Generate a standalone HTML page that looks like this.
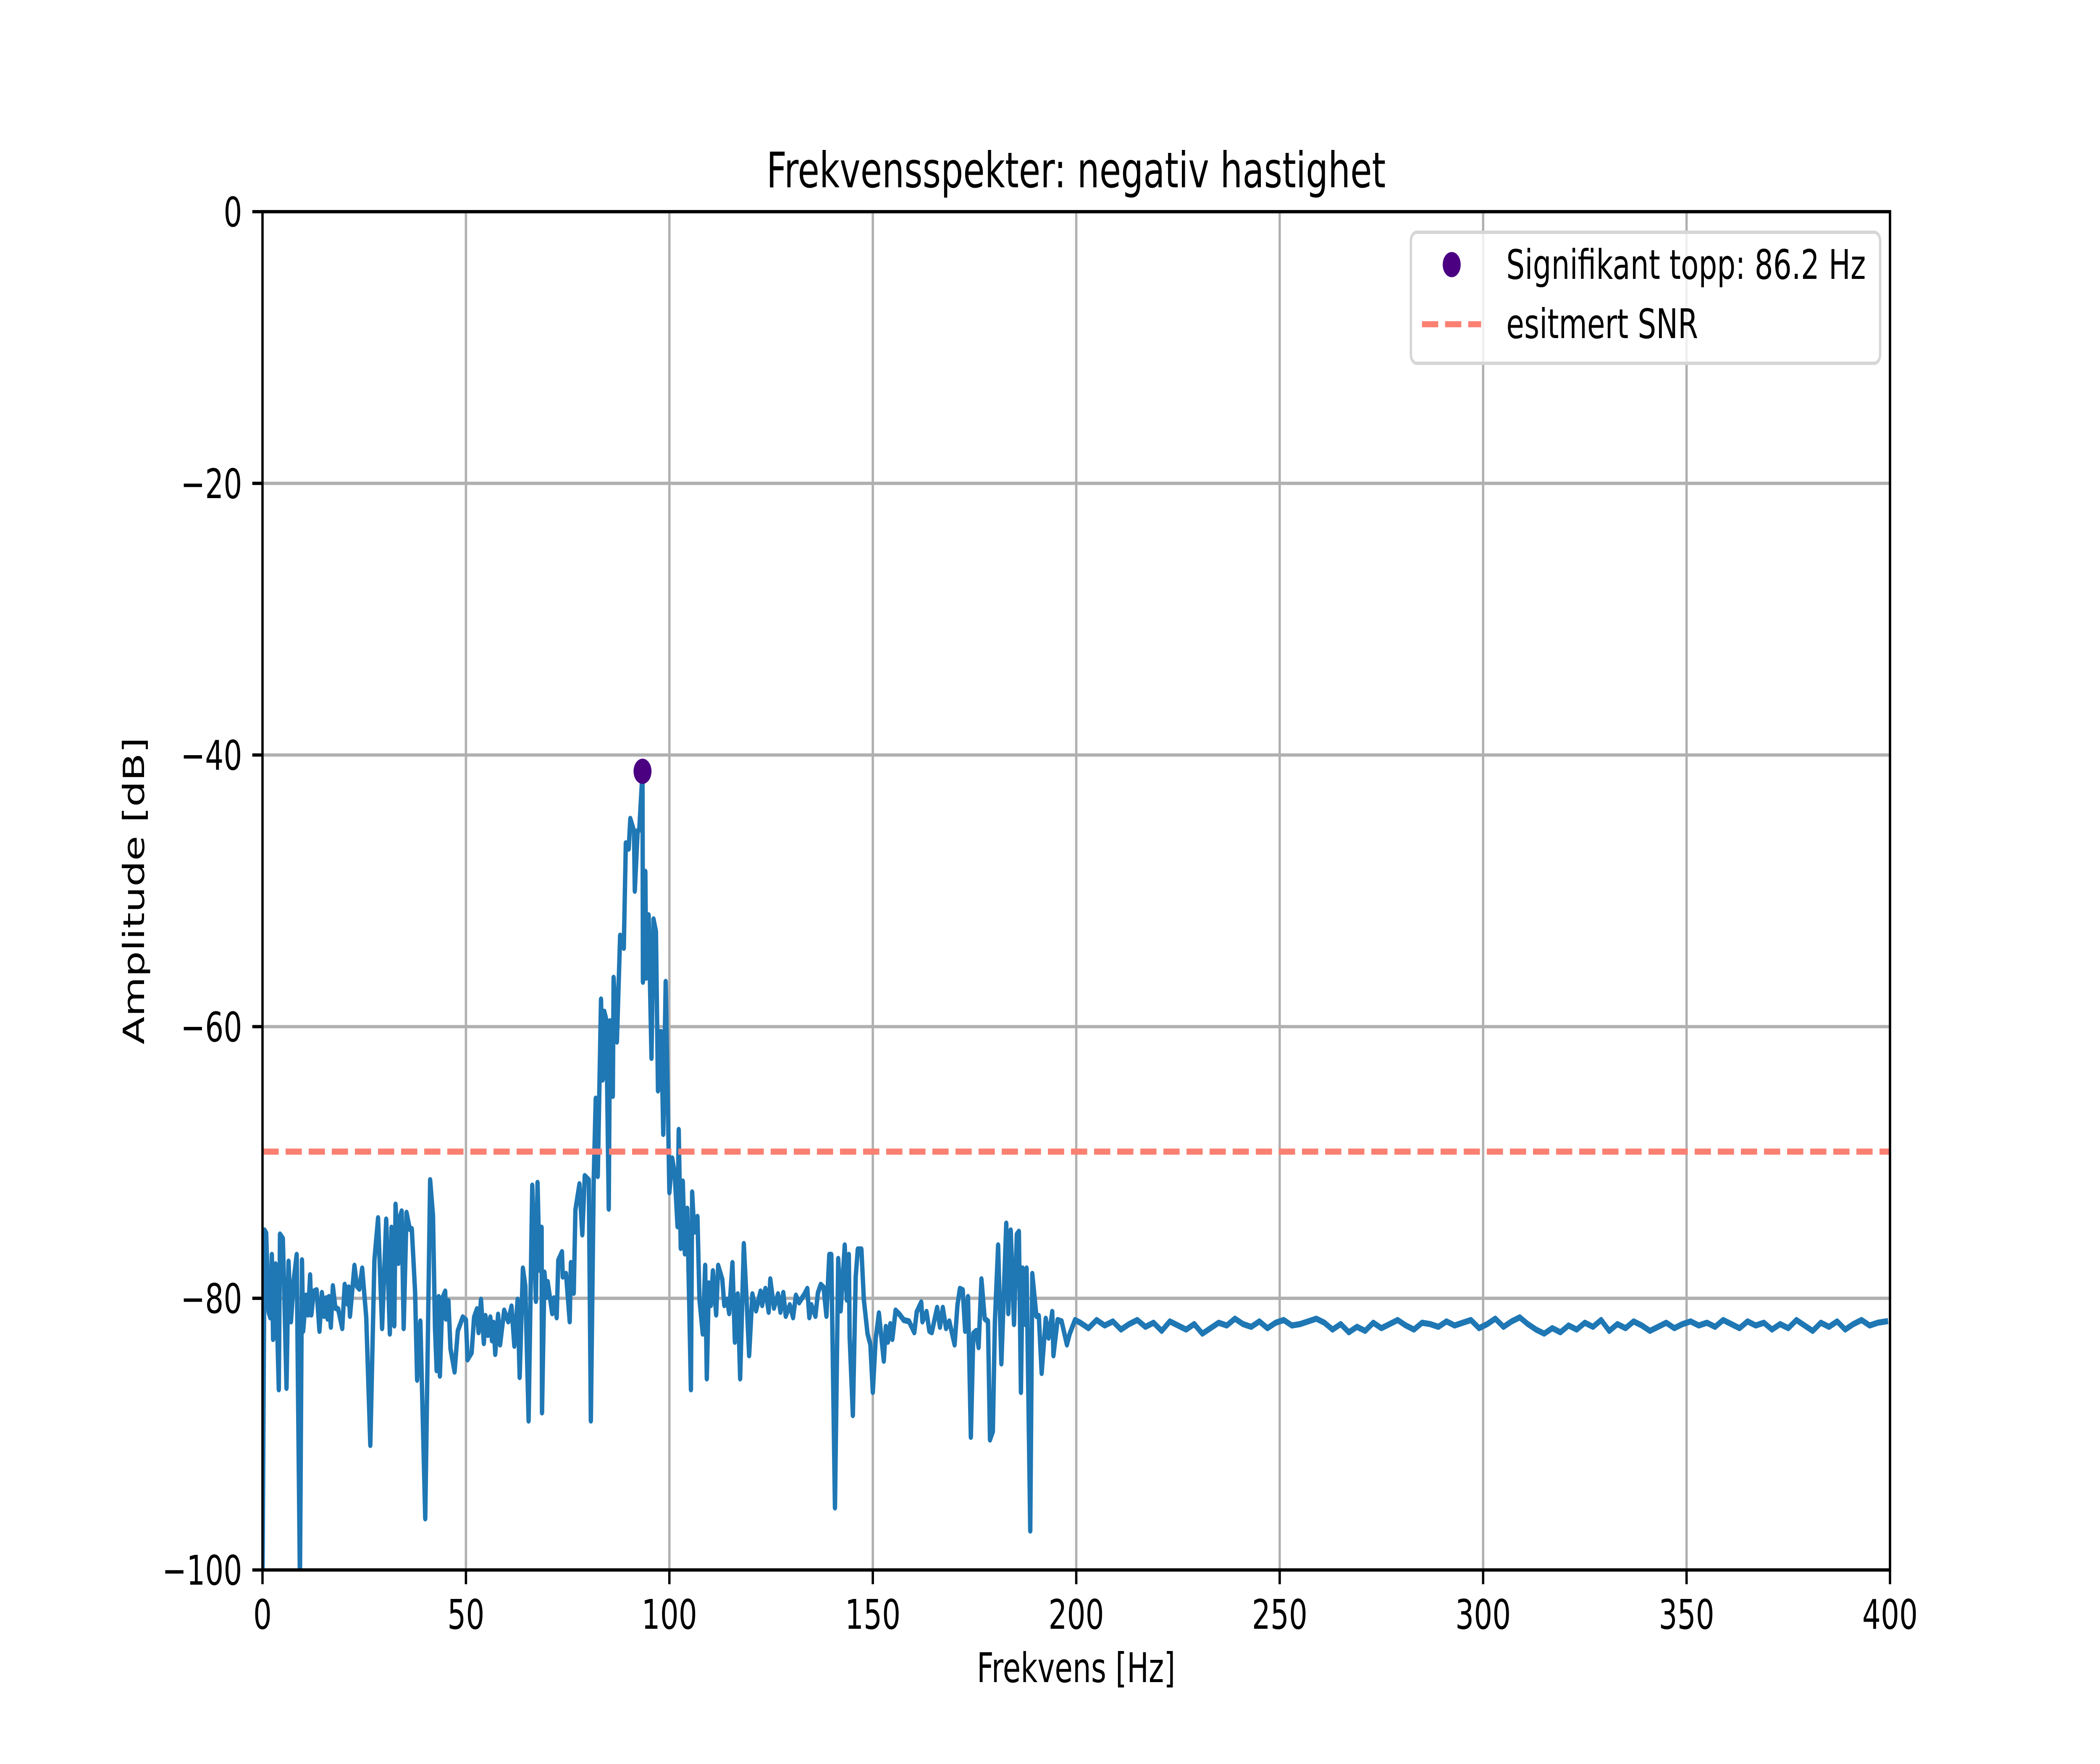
<!DOCTYPE html>
<html><head><meta charset="utf-8"><style>
html,body{margin:0;padding:0;background:#fff;width:100%;height:100%;overflow:hidden;}
svg{display:block;width:100vw;height:100vh;font-family:"DejaVu Sans","Liberation Sans",sans-serif;}
</style></head><body>
<svg id="chart" xmlns="http://www.w3.org/2000/svg" viewBox="0 0 7000 4200" preserveAspectRatio="none">
<rect x="0" y="0" width="7000" height="4200" fill="#fff"/>
<g id="grid"></g>
<g id="plot"></g>
<g id="axes"></g>
<text x="3587" y="446" font-size="117" text-anchor="middle">Frekvensspekter: negativ hastighet</text>
<text x="3587" y="4005" font-size="97" text-anchor="middle">Frekvens [Hz]</text>
<text x="480" y="2121" font-size="97" text-anchor="middle" transform="rotate(-90 480 2121)">Amplitude [dB]</text>
<g>
<rect x="4703" y="553" width="1564" height="312" rx="20" fill="#fff" fill-opacity="0.8" stroke="#d6d6d6" stroke-width="8"/>
<circle cx="4839" cy="630" r="30" fill="#4b0082"/>
<text x="5021" y="664" font-size="97">Signifikant topp: 86.2 Hz</text>
<line x1="4740" y1="772" x2="4937" y2="772" stroke="#fa8072" stroke-width="14.6" stroke-dasharray="54,23"/>
<text x="5021" y="805" font-size="97">esitmert SNR</text>
</g>
</svg>
<script>
// ---- data ----
const lowFreqs = [0,0.5,0.9,1.5,1.9,2.3,2.6,3.2,4,4.3,5,5.4,5.9,6.4,7,7.7,8.4,9.2,9.7,10,10.7,11.2,11.7,12,12.6,13.3,14,14.6,15.1,15.6,16,16.3,16.8,17.3,17.9,18.6,19.6,20.2,20.9,21.2,21.5,22.6,23.2,23.8,24.5,25.5,26.5,27.5,28.4,29.4,30.4,31.3,31.7,32.4,32.7,33.4,33.7,34.2,34.7,35.4,36.2,36.7,37.5,38,38.8,40,41.2,41.9,42.4,42.8,43.3,43.6,44.2,44.9,45.1,45.7,46.2,47.2,48,49.2,50,50.4,51.4,52,52.7,53.1,53.7,54.4,54.8,55.4,56,56.4,56.8,57.2,57.9,58.4,59.4,60.4,61.2,61.9,62.7,63.2,64,64.6,65.4,66.3,67.2,67.6,68.1,68.6,68.7,69.3,69.8,70.1,71.2,71.6,72.3,72.7,73.6,73.8,74.6,75.5,75.8,76.5,76.9,77.9,78.6,79.2,80.2,80.7,81.4,81.9,82.4,83.2,83.6,84,84.5,85.1,85.4,86.1,86.3,87.1,87.9,88.8,89.3,90,90.4,91.3,91.5,92.2,92.6,93.4,93.5,94.1,94.3,94.9,95.6,96.1,96.7,97.2,97.5,98,98.5,99.1,100,100.7,101.3,102,102.3,102.8,103.3,103.8,104.4,105.3,105.6,106.1,106.9,107.4,108.2,108.8,109.2,109.7,110.2,110.7,111.5,112,113,113.5,114.2,114.7,115.5,116.1,116.8,117.4,118.3,119.1,119.6,120.4,121.3,122.4,122.8,123.6,124.4,124.8,125.7,126.7,127.3,128,128.6,129.6,130.4,131.1,131.9,133.2,133.9,134.4,134.9,135.9,136.5,137.2,137.9,138.6,139.3,139.8,140.7,141.5,142.1,143.1,143.6,144.1,144.3,145.1,145.8,146.3,147.2,147.8,148.7,149.4,150,150.7,151.5,152.7,153.2,153.7,154.3,154.8,155.6,156.6,157.6,158.9,160.2,160.8,161.9,162.2,163.2,163.9,164.5,165.8,166.5,167.2,168,168.8,170.1,170.8,171.4,172.1,172.7,173.4,174.1,174.7,175.4,176,176.7,177.5,178.3,178.8,179.5,180,180.8,181.6,182.8,183.3,183.9,184.7,185.4,185.9,186.4,186.8,187.5,187.8,188.7,189.2,190.2,190.8,191.5,192.5,193.2,194.1,194.4,195.4,196.4,197.7,198.4,199.7];
const lowAmps = [-101,-75,-75.2,-81,-81.4,-76.8,-83,-77.5,-86.7,-75.3,-75.6,-80.2,-86.6,-77.3,-81.7,-78.6,-76.8,-101,-77.2,-82.4,-79.8,-81.2,-78.3,-81.2,-79.5,-79.4,-82.4,-79.6,-81.3,-80,-81.5,-79.9,-82.1,-79.1,-80.7,-80.8,-82.2,-79,-80.4,-79.2,-81.3,-77.6,-79.1,-79.3,-77.8,-81.4,-90.8,-77.2,-74.1,-82.2,-74.2,-82.6,-74.8,-82,-73.1,-77.4,-74.1,-73.6,-82.2,-73.7,-74.9,-74.9,-79.5,-86,-81.7,-96.2,-71.3,-73.9,-82.2,-85.3,-79.9,-85.7,-80,-79.5,-81.5,-80.2,-83.7,-85.4,-82.4,-81.4,-81.6,-84.5,-84,-81.4,-80.8,-82.5,-80.1,-83.3,-81.3,-82.7,-81.4,-83.1,-81.8,-84.1,-81.2,-83.4,-80.9,-81.7,-80.6,-83.5,-80.1,-85.8,-77.8,-79.1,-89,-71.7,-80.2,-71.5,-77.9,-74.8,-88.4,-78.1,-79.9,-78.8,-81.1,-80,-81.4,-77.2,-76.6,-78.4,-78.2,-81.7,-77.4,-79.6,-73.5,-71.6,-75.3,-71,-71.3,-89,-71.3,-65.3,-71,-58,-63.9,-58.9,-59.5,-73.4,-59.6,-65.1,-56.4,-61.1,-53.3,-54.2,-46.5,-46.9,-44.7,-45.6,-50,-45.6,-45.5,-41.2,-56.7,-48.6,-56.4,-51.8,-62.3,-52.1,-53,-64.7,-60.4,-60.4,-67.9,-56.7,-72.2,-69.7,-70.8,-74.7,-67.6,-76.3,-71.4,-76.7,-73.4,-86.7,-72.2,-75.1,-74,-80.1,-82.6,-77.6,-85.9,-78.9,-80.5,-78,-81.2,-77.6,-78.6,-80.5,-80.1,-81.1,-77.4,-83.2,-79.7,-85.9,-76,-80.9,-84.2,-79.7,-80.9,-79.5,-80.5,-79.3,-81,-78.6,-80.7,-79.7,-81,-79.6,-81.3,-80.5,-81.4,-79.8,-80.3,-79.7,-79.3,-81.4,-80.5,-81.3,-79.6,-79,-79.2,-81.3,-76.8,-76.8,-95.4,-77.1,-80.9,-76.1,-80.1,-76.8,-82.8,-88.6,-78.4,-76.4,-76.4,-80.1,-82.6,-83.4,-86.9,-83,-81.1,-84.6,-82.1,-83.2,-81.9,-83,-80.9,-81.2,-81.6,-81.7,-82.5,-81,-80.3,-81.7,-81,-82.4,-82.5,-80.7,-82.1,-80.7,-82.2,-81.7,-83.4,-80.5,-79.3,-79.4,-82.4,-79.9,-90.2,-82.6,-82.4,-83.6,-78.6,-81.5,-81.7,-90.4,-89.8,-81.7,-76.1,-84.8,-74.5,-81.1,-75,-81.9,-75.3,-75.1,-86.9,-77.8,-81.9,-77.8,-97.1,-78.2,-81.3,-81.3,-85.5,-81.5,-82.9,-81,-84.2,-81.6,-81.7,-83.4,-82.6,-81.6];
const highStart = 201, highStep = 2;
const highAmps = [-81.8,-82.2,-81.6,-82.0,-81.7,-82.3,-81.9,-81.6,-82.1,-81.8,-82.4,-81.7,-82.0,-82.3,-81.9,-82.6,-82.2,-81.8,-82.0,-81.5,-81.9,-82.1,-81.7,-82.2,-81.8,-81.6,-82.0,-81.9,-81.7,-81.5,-81.8,-82.3,-81.9,-82.5,-82.1,-82.4,-81.8,-82.2,-81.9,-81.6,-82.0,-82.3,-81.8,-81.9,-82.1,-81.7,-82.0,-81.8,-81.6,-82.2,-81.9,-81.5,-82.1,-81.7,-81.4,-81.9,-82.3,-82.6,-82.2,-82.5,-82.0,-82.3,-81.8,-82.1,-81.6,-82.4,-81.9,-82.2,-81.7,-82.0,-82.4,-82.1,-81.8,-82.2,-81.9,-81.7,-82.0,-81.8,-82.1,-81.6,-81.9,-82.2,-81.7,-82.0,-81.8,-82.3,-81.9,-82.2,-81.6,-82.0,-82.4,-81.8,-82.1,-81.7,-82.3,-81.9,-81.6,-82.0,-81.8,-81.7];
const peakFreq = [93.4];
const peakAmp = [-41.2];
const snrLevel = [-69.2];
const xTicks = [0,50,100,150,200,250,300,350,400];
const yTicks = [0,-20,-40,-60,-80,-100];
const xTickLabels = ["0","50","100","150","200","250","300","350","400"];
const yTickLabels = ["0","\u221220","\u221240","\u221260","\u221280","\u2212100"];

// ---- axes ----
const L=875,R=6300,T=504,B=3738;
const xMin=0,xMax=400,yMin=-100,yMax=0;
const X=v=>L+(v-xMin)/(xMax-xMin)*(R-L);
const Y=v=>B-(v-yMin)/(yMax-yMin)*(B-T);
const NS="http://www.w3.org/2000/svg";
function mk(tag,attrs,parent){const e=document.createElementNS(NS,tag);for(const k in attrs)e.setAttribute(k,attrs[k]);parent.appendChild(e);return e;}
const grid=document.getElementById('grid'),plot=document.getElementById('plot'),axes=document.getElementById('axes');

xTicks.forEach((t,i)=>{
  const g=mk('line',{x1:X(t),x2:X(t),y1:T,y2:B,stroke:'#b0b0b0','stroke-width':7.8},grid);
  
  
  const tk=mk('line',{x1:X(t),x2:X(t),y1:B,y2:B+34,stroke:'#000','stroke-width':7.8},axes);
  
  
  const tx=mk('text',{x:X(t),y:B+34+34+72,'font-size':97,'text-anchor':'middle'},axes);
  tx.textContent=xTickLabels[i];
  
  
});
yTicks.forEach((t,i)=>{
  const g=mk('line',{x1:L,x2:R,y1:Y(t),y2:Y(t),stroke:'#b0b0b0','stroke-width':7.8},grid);
  
  
  const tk=mk('line',{x1:L-34,x2:L,y1:Y(t),y2:Y(t),stroke:'#000','stroke-width':7.8},axes);
  
  
  const tx=mk('text',{x:L-34-34,y:Y(t)+35,'font-size':97,'text-anchor':'end'},axes);
  tx.textContent=yTickLabels[i];
  
  
});

// clip
const defs=mk('defs',{},plot);
const cp=mk('clipPath',{id:'clip'},defs);
mk('rect',{x:L,y:T,width:R-L,height:B-T},cp);

// spectrum
const pts=[];
lowFreqs.forEach((f,i)=>pts.push([X(f),Y(lowAmps[i])]));
highAmps.forEach((a,i)=>pts.push([X(highStart+i*highStep),Y(a)]));
const line=mk('path',{d:'M'+pts.map(p=>p[0].toFixed(1)+','+p[1].toFixed(1)).join('L'),fill:'none',stroke:'#1f77b4','stroke-width':14.6,'stroke-linejoin':'round','stroke-linecap':'square','clip-path':'url(#clip)'},plot);



// SNR
const snr=mk('line',{x1:L,x2:R,y1:Y(snrLevel[0]),y2:Y(snrLevel[0]),stroke:'#fa8072','stroke-width':14.6,'stroke-dasharray':'54,23'},plot);



// peak
const pk=mk('circle',{cx:X(peakFreq[0]),cy:Y(peakAmp[0]),r:30,fill:'#4b0082'},plot);



// frame
const fr=mk('rect',{x:L,y:T,width:R-L,height:B-T,fill:'none',stroke:'#000','stroke-width':7.8},axes);


</script>
</body></html>
